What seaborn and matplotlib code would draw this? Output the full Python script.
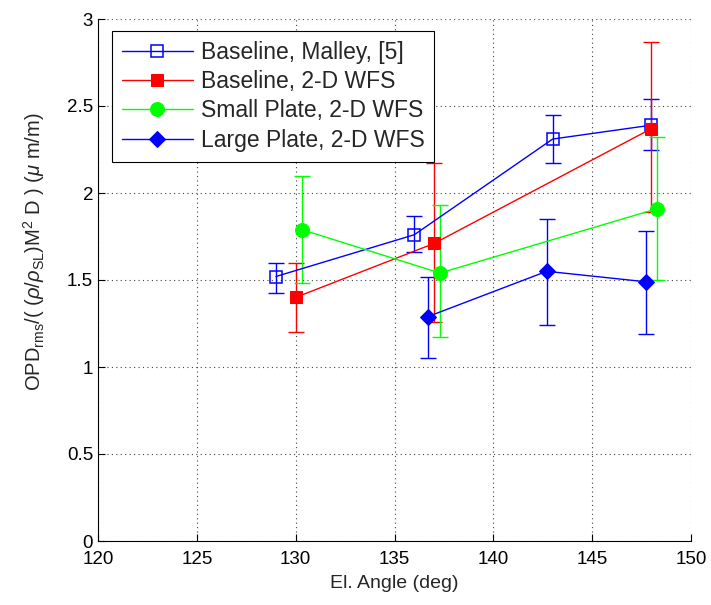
import matplotlib
matplotlib.use("Agg")
import matplotlib.pyplot as plt
import seaborn as sns
import pandas as pd

# Data
malley_x = [129, 136, 143, 148]
malley_y = [1.52, 1.76, 2.31, 2.39]
malley_lo = [1.425, 1.66, 2.17, 2.25]
malley_hi = [1.60, 1.87, 2.45, 2.54]

base_x = [130, 137, 148]
base_y = [1.40, 1.71, 2.37]
base_lo = [1.20, 1.26, 1.89]
base_hi = [1.60, 2.17, 2.87]

small_x = [130.3, 137.3, 148.3]
small_y = [1.79, 1.54, 1.91]
small_lo = [1.48, 1.17, 1.50]
small_hi = [2.10, 1.93, 2.32]

large_x = [136.7, 142.7, 147.7]
large_y = [1.29, 1.55, 1.49]
large_lo = [1.05, 1.24, 1.19]
large_hi = [1.52, 1.85, 1.78]

labels = ["Baseline, Malley, [5]", "Baseline, 2-D WFS",
          "Small Plate, 2-D WFS", "Large Plate, 2-D WFS"]
xticks = [120, 125, 130, 135, 140, 145, 150]
yticks = [0, 0.5, 1, 1.5, 2, 2.5, 3]
ytick_labels = ['0', '0.5', '1', '1.5', '2', '2.5', '3']

sns.set_style("ticks")
plt.rcParams['font.family'] = ['Liberation Sans', 'DejaVu Sans']
plt.rcParams['mathtext.fontset'] = 'custom'
plt.rcParams['mathtext.rm'] = 'Liberation Sans'
plt.rcParams['mathtext.it'] = 'Liberation Sans:italic'

fig = plt.figure(figsize=(7.11, 6.05), dpi=100)
ax = fig.add_axes([98 / 711, 1 - 541 / 605, (691 - 98) / 711, (541 - 19) / 605])

series = [
    (malley_x, malley_y, malley_lo, malley_hi, '#0000FF', 's', dict(markerfacecolor='none', markeredgecolor='#0000FF', markersize=9, markeredgewidth=1.1)),
    (base_x, base_y, base_lo, base_hi, '#FF0000', 's', dict(markerfacecolor='#FF0000', markeredgecolor='#FF0000', markersize=9)),
    (small_x, small_y, small_lo, small_hi, '#00FF00', 'o', dict(markerfacecolor='#00FF00', markeredgecolor='#00FF00', markersize=10)),
    (large_x, large_y, large_lo, large_hi, '#0000FF', 'D', dict(markerfacecolor='#0000FF', markeredgecolor='#0000FF', markersize=8)),
]

for (xs, ys, lo, hi, c, m, mk), lab in zip(series, labels):
    df = pd.DataFrame({"x": xs, "y": ys})
    yerr = [[y - l for y, l in zip(ys, lo)], [h - y for y, h in zip(ys, hi)]]
    ax.errorbar(xs, ys, yerr=yerr, fmt='none', ecolor=c, elinewidth=1.0,
                capsize=6, capthick=1.0, zorder=2)
    sns.lineplot(data=df, x="x", y="y", ax=ax, color=c, marker=m, linewidth=1.0,
                 label=lab, sort=False, zorder=3, **mk)

ax.set_xlim(120, 150)
ax.set_ylim(0, 3)
ax.set_xticks(xticks)
ax.set_yticks(yticks)
ax.set_yticklabels(ytick_labels)
ax.grid(True, linestyle=(0, (1, 3)), color='#444444', linewidth=0.8)
ax.tick_params(direction='in', labelsize=13.5, length=5, width=0.8, colors='black')
ax.tick_params(axis='x', pad=7)
for s in ['top', 'right']:
    ax.spines[s].set_visible(False)
for s in ['left', 'bottom']:
    ax.spines[s].set_color('black')
    ax.spines[s].set_linewidth(0.8)

ax.set_xlabel('El. Angle (deg)', fontsize=14)
ax.xaxis.set_label_coords(0.5, -(584 - 541) / 522)
ax.xaxis.label.set_va('center')
ax.set_ylabel(r'OPD$_{\rm rms}$/( ($\rho$/$\rho_{\rm SL}$)M$^2$ D ) ($\mu$ m/m)', fontsize=14.5)
ax.yaxis.set_label_coords(-(98 - 34) / 593, (541 - 252) / 522)
ax.yaxis.label.set_va('center')

leg = ax.legend(loc='upper left', bbox_to_anchor=((112 - 98) / 593, (541 - 31) / 522),
                borderaxespad=0, fontsize=16.5,
                frameon=True, fancybox=False, edgecolor='black', framealpha=1,
                borderpad=0.42, labelspacing=0.28, handlelength=3.1, handletextpad=0.35)
leg.get_frame().set_linewidth(0.8)

fig.savefig('out.png', dpi=100, facecolor='white')
